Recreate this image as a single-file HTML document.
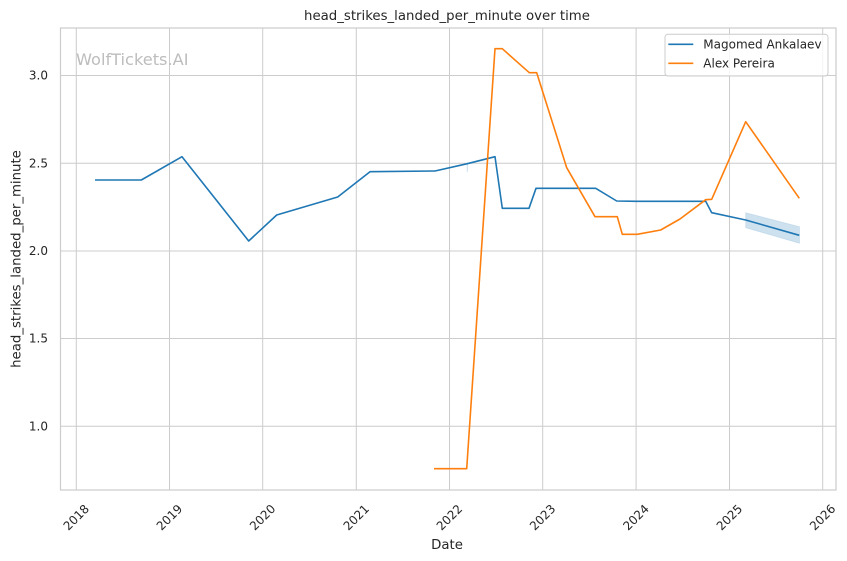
<!DOCTYPE html>
<html><head><meta charset="utf-8"><style>
html,body{margin:0;padding:0;background:#fff;}
svg{display:block;font-family:"DejaVu Sans","Liberation Sans",sans-serif;}
</style></head><body>
<svg width="847" height="561" viewBox="0 0 847 561" xmlns="http://www.w3.org/2000/svg">
<rect width="847" height="561" fill="#fff"/>
<!-- grid -->
<g stroke="#cccccc" stroke-width="1" fill="none">
<line x1="76.3" y1="28" x2="76.3" y2="490"/>
<line x1="169.5" y1="28" x2="169.5" y2="490"/>
<line x1="262.7" y1="28" x2="262.7" y2="490"/>
<line x1="356.3" y1="28" x2="356.3" y2="490"/>
<line x1="449.5" y1="28" x2="449.5" y2="490"/>
<line x1="542.7" y1="28" x2="542.7" y2="490"/>
<line x1="636.1" y1="28" x2="636.1" y2="490"/>
<line x1="729.5" y1="28" x2="729.5" y2="490"/>
<line x1="822.7" y1="28" x2="822.7" y2="490"/>
<line x1="60.5" y1="75.5" x2="836" y2="75.5"/>
<line x1="60.5" y1="163.3" x2="836" y2="163.3"/>
<line x1="60.5" y1="251" x2="836" y2="251"/>
<line x1="60.5" y1="338.5" x2="836" y2="338.5"/>
<line x1="60.5" y1="426.3" x2="836" y2="426.3"/>
</g>
<rect x="60.5" y="28" width="775.5" height="462" fill="none" stroke="#cccccc" stroke-width="1.2"/>
<!-- watermark -->
<text x="76" y="65" font-size="16.2" fill="#bdbdbd">WolfTickets.AI</text>
<!-- CI -->
<polygon points="745.7,212.7 799.5,226.7 799.5,243.3 745.7,227.7" fill="#1f77b4" fill-opacity="0.22" stroke="#1f77b4" stroke-opacity="0.15" stroke-width="0.8"/>
<line x1="467.3" y1="163.5" x2="467.3" y2="171.7" stroke="#1f77b4" stroke-opacity="0.25" stroke-width="1"/>
<!-- series -->
<polyline fill="none" stroke="#1f77b4" stroke-width="1.6" stroke-linejoin="round" points="95,180 141.3,180 182,156.7 248.7,241 276.7,215 337.7,197 370,171.7 434,171 435,171 467.3,163.7 495,156.7 502.3,208.3 529,208.3 536,188.3 595.7,188.3 616.7,201 636.7,201.3 705.7,201.3 711.7,212.7 745.7,220 799.3,235.3"/>
<polyline fill="none" stroke="#ff7f0e" stroke-width="1.6" stroke-linejoin="round" points="434,468.7 466.7,468.7 495,48.7 502.3,48.7 529.3,72.7 536.7,72.7 566.7,167.7 595,216.7 617.3,216.7 622.3,234.3 637.3,234.3 660.7,230 680,219 705.7,199.7 711.7,199.3 745.7,121.7 799.3,198.3"/>
<!-- y ticks -->
<g font-size="12" fill="#262626" text-anchor="end" dominant-baseline="central">
<text x="48" y="75.5">3.0</text>
<text x="48" y="163.3">2.5</text>
<text x="48" y="251">2.0</text>
<text x="48" y="338.5">1.5</text>
<text x="48" y="426.3">1.0</text>
</g>
<!-- x ticks -->
<g font-size="12" fill="#262626" text-anchor="middle" dominant-baseline="central">
<text x="76.3" y="517.5" transform="rotate(-45 76.3 517.5)">2018</text>
<text x="169.5" y="517.5" transform="rotate(-45 169.5 517.5)">2019</text>
<text x="262.7" y="517.5" transform="rotate(-45 262.7 517.5)">2020</text>
<text x="356.3" y="517.5" transform="rotate(-45 356.3 517.5)">2021</text>
<text x="449.5" y="517.5" transform="rotate(-45 449.5 517.5)">2022</text>
<text x="542.7" y="517.5" transform="rotate(-45 542.7 517.5)">2023</text>
<text x="636.1" y="517.5" transform="rotate(-45 636.1 517.5)">2024</text>
<text x="729.5" y="517.5" transform="rotate(-45 729.5 517.5)">2025</text>
<text x="822.7" y="517.5" transform="rotate(-45 822.7 517.5)">2026</text>
</g>
<!-- labels -->
<text x="447" y="20" font-size="13.3" fill="#262626" text-anchor="middle">head_strikes_landed_per_minute over time</text>
<text x="447" y="549" font-size="13.3" fill="#262626" text-anchor="middle">Date</text>
<text x="0" y="0" font-size="13.3" fill="#262626" text-anchor="middle" dominant-baseline="central" transform="translate(17 259) rotate(-90)">head_strikes_landed_per_minute</text>
<!-- legend -->
<rect x="665" y="34.3" width="163" height="41.7" rx="3" ry="3" fill="#ffffff" fill-opacity="0.8" stroke="#cccccc" stroke-width="1"/>
<line x1="668.3" y1="44.3" x2="693.3" y2="44.3" stroke="#1f77b4" stroke-width="1.6"/>
<line x1="668.3" y1="63.3" x2="693.3" y2="63.3" stroke="#ff7f0e" stroke-width="1.6"/>
<g font-size="12" fill="#262626" dominant-baseline="central">
<text x="703.3" y="44.3">Magomed Ankalaev</text>
<text x="703.3" y="63.3">Alex Pereira</text>
</g>
</svg>
</body></html>
